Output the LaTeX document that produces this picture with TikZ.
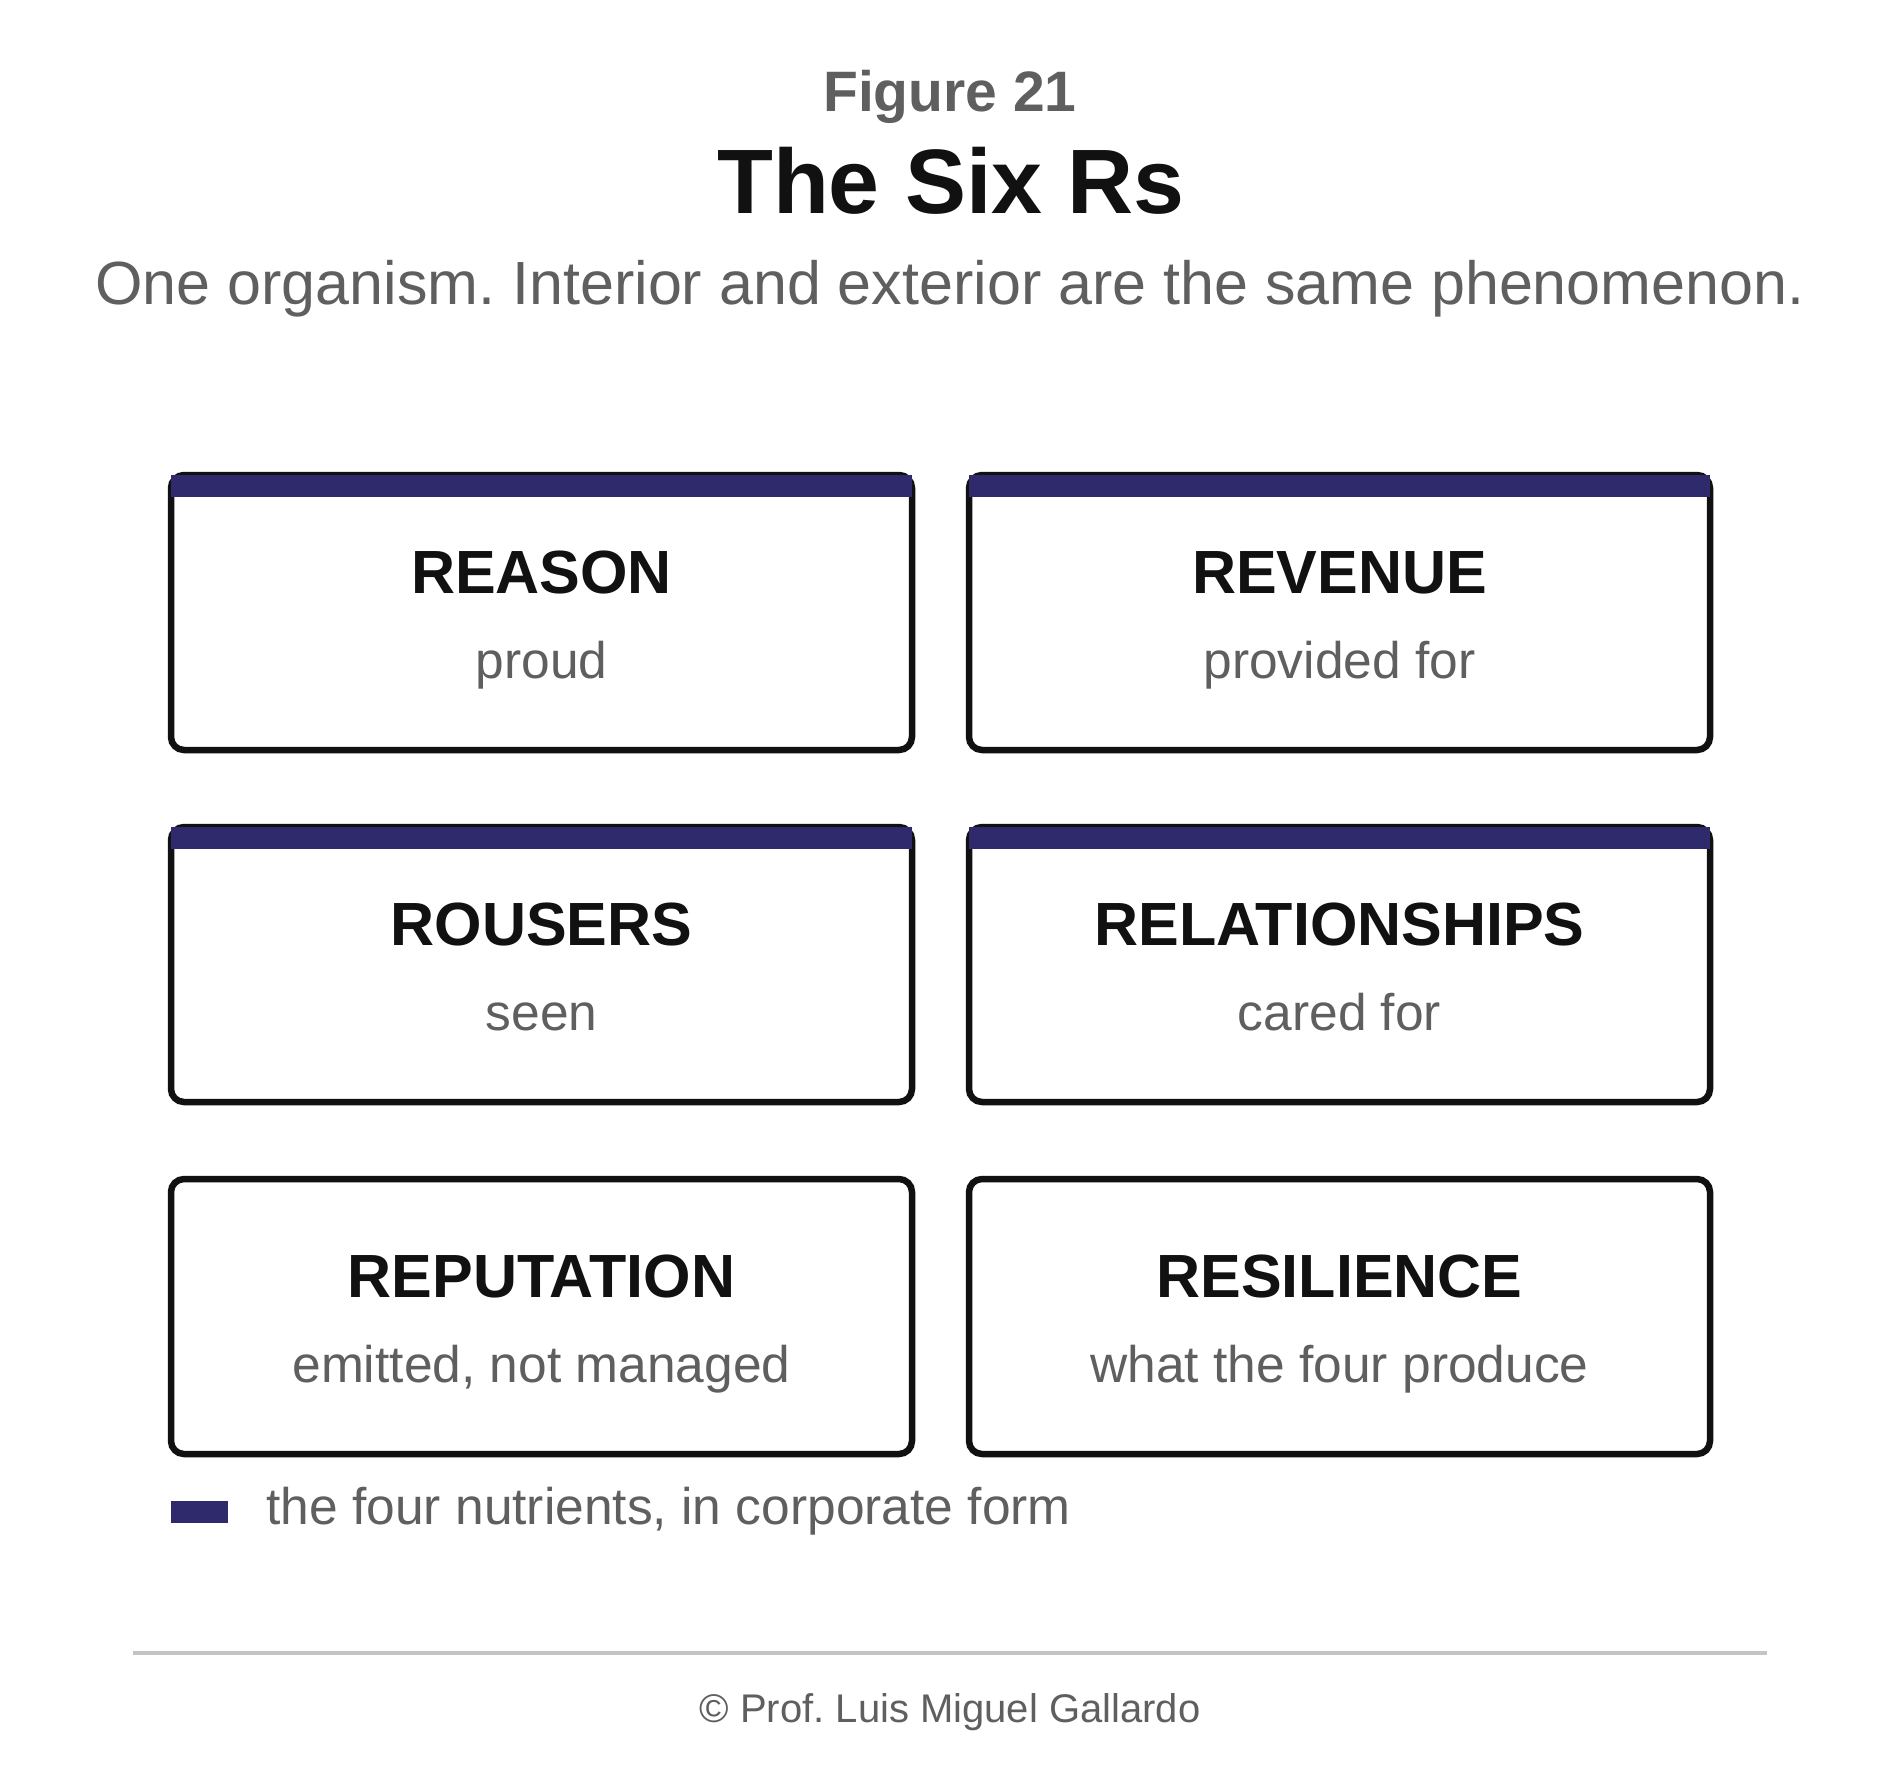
\documentclass[tikz,border=0pt]{standalone}
\usepackage{fontspec}
\setmainfont{Liberation Sans}
\frenchspacing
\definecolor{barc}{HTML}{2F2A6B}
\definecolor{graytext}{HTML}{5F5F5F}
\definecolor{darktext}{HTML}{111111}
\definecolor{rulec}{HTML}{C4C4C4}
\newcommand{\fsz}[1]{\fontsize{#1pt}{#1pt}\selectfont}
\tikzset{
  rbox/.style={draw=darktext, line width=6.5pt, fill=white, rounded corners=13pt,
    minimum width=741pt, minimum height=275pt, inner sep=0pt, outer sep=0pt},
  boxtitle/.style={anchor=base, inner sep=0pt, text=darktext, font=\fsz{61}\bfseries},
  boxsub/.style={anchor=base, inner sep=0pt, text=graytext, font=\fsz{51.5}},
  topbar/.style={fill=barc},
  plain/.style={inner sep=0pt, outer sep=0pt}
}
\begin{document}
\begin{tikzpicture}[x=1pt,y=-1pt]
\useasboundingbox[fill=white] (0,0) rectangle (1900,1786);
% header
\node[plain, anchor=base, text=graytext, font=\fsz{57}\bfseries] (fig) at (950,111) {Figure 21};
\node[plain, anchor=base, text=darktext, font=\fsz{91.5}\bfseries] (title) at (951,213) {The Six Rs};
\node[plain, anchor=base, text=graytext, font=\fsz{61}] (subtitle) at (950,304) {One organism. Interior and exterior are the same phenomenon.};
% boxes
\node[rbox] (reason) at (541.5,612.5) {};
\node[rbox] (revenue) at (1339.5,612.5) {};
\node[rbox] (rousers) at (541.5,964.5) {};
\node[rbox] (relationships) at (1339.5,964.5) {};
\node[rbox] (reputation) at (541.5,1316.5) {};
\node[rbox] (resilience) at (1339.5,1316.5) {};
% nutrient bars
\foreach \b in {reason,revenue,rousers,relationships}{
  \fill[topbar] (\b.north west) rectangle ([yshift=-22pt]\b.north east);
}
% texts
\node[boxtitle] (reasonT) at ([yshift=-118pt]reason.north) {REASON};
\node[boxsub] (reasonS) at ([yshift=-203pt]reason.north) {proud};
\node[boxtitle] (revenueT) at ([yshift=-118pt]revenue.north) {REVENUE};
\node[boxsub] (revenueS) at ([yshift=-203pt]revenue.north) {provided for};
\node[boxtitle] (rousersT) at ([yshift=-118pt]rousers.north) {ROUSERS};
\node[boxsub] (rousersS) at ([yshift=-203pt]rousers.north) {seen};
\node[boxtitle] (relationshipsT) at ([yshift=-118pt]relationships.north) {RELATIONSHIPS};
\node[boxsub] (relationshipsS) at ([yshift=-203pt]relationships.north) {cared for};
\node[boxtitle] (reputationT) at ([yshift=-118pt]reputation.north) {REPUTATION};
\node[boxsub] (reputationS) at ([yshift=-203pt]reputation.north) {emitted, not managed};
\node[boxtitle] (resilienceT) at ([yshift=-118pt]resilience.north) {RESILIENCE};
\node[boxsub] (resilienceS) at ([yshift=-203pt]resilience.north) {what the four produce};
% legend
\fill[topbar] (171,1501) rectangle (228,1523);
\node[plain, anchor=base west, text=graytext, font=\fsz{51.5}] (legend) at (266.5,1524) {the four nutrients, in corporate form};
% footer
\coordinate (ruleL) at (133,1653);
\coordinate (ruleR) at (1767,1653);
\draw[rulec, line width=3.5pt] (ruleL) -- (ruleR);
\node[plain, anchor=base, text=graytext, font=\fsz{40}] (footer) at (950,1722) {© Prof. Luis Miguel Gallardo};
\end{tikzpicture}
\end{document}
